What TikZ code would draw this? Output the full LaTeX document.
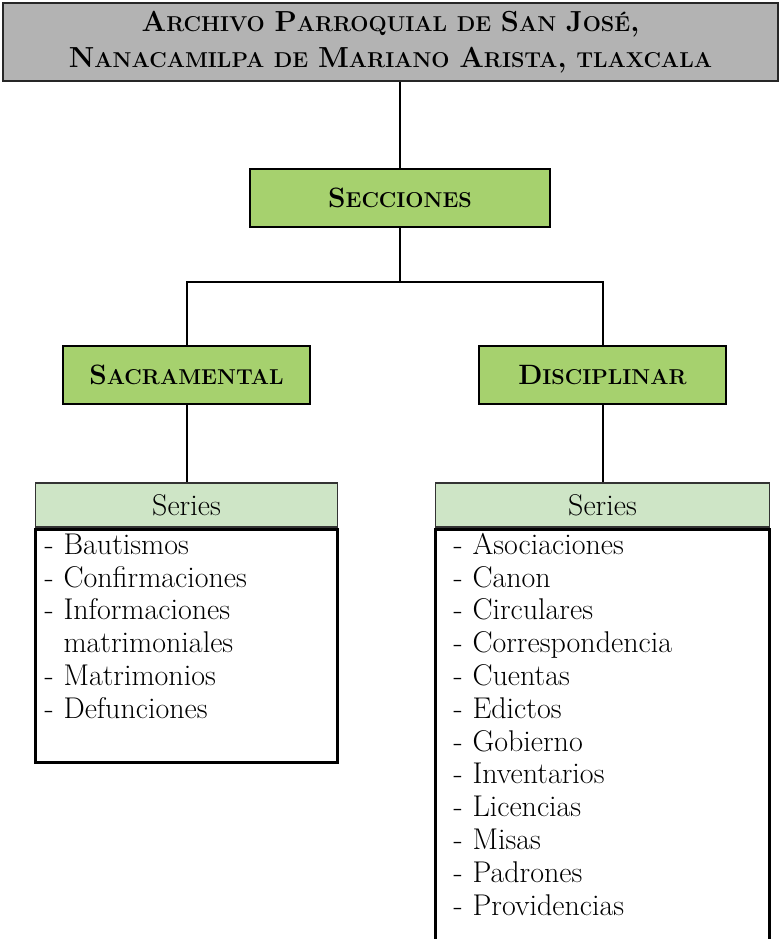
\documentclass[tikz,border=0pt]{standalone}
\usepackage{tikz}
\definecolor{gristitulo}{RGB}{179,179,179}
\definecolor{verde}{RGB}{166,209,110}
\definecolor{verdeclaro}{RGB}{206,229,198}
\def\pc#1{{\fontsize{21.5}{24}\selectfont #1}}
\tikzset{
	titulo/.style={draw=black!85, line width=2pt, fill=gristitulo, minimum width=775pt, minimum height=78pt, text width=740pt, align=center, font=\fontsize{29}{35.5}\selectfont\bfseries},
	seccion/.style={draw=black, line width=2pt, fill=verde, minimum height=58pt, font=\fontsize{28}{32}\selectfont\bfseries},
	cabecera/.style={draw=black!80, line width=1.5pt, fill=verdeclaro, minimum height=44pt, font=\fontsize{30}{32.8}\selectfont},
	lista/.style={draw=black, line width=3pt, anchor=north, align=left, inner ysep=2pt, font=\fontsize{30}{32.8}\selectfont},
	rama/.style={line width=2pt}
}

\begin{document}
\begin{tikzpicture}[x=1pt, y=-1pt]
		%%%%% START %%%%%
		\useasboundingbox (0, 0) rectangle (779, 939);
		
		\node[titulo] (archivo) at (390.5, 42) {A\pc{RCHIVO} P\pc{ARROQUIAL} \pc{DE} S\pc{AN} J\pc{OSÉ},\\ N\pc{ANACAMILPA} \pc{DE} M\pc{ARIANO} A\pc{RISTA}, \pc{TLAXCALA}};
		
		\node[seccion, minimum width=300pt] (secciones) at (400, 197.5) {S\pc{ECCIONES}};
		\node[seccion, minimum width=247pt] (sacramental) at (186.5, 375) {S\pc{ACRAMENTAL}};
		\node[seccion, minimum width=247pt] (disciplinar) at (602.5, 375) {D\pc{ISCIPLINAR}};
		
		\node[cabecera, minimum width=302pt] (seriesS) at (186.5, 505) {Series};
		\node[cabecera, minimum width=334pt] (seriesD) at (602.5, 505) {Series};
		
		\node[lista, text width=284pt, inner xsep=9pt] (listaS) at (seriesS.south) {\strut- Bautismos\\
			- Confirmaciones\\
			- Informaciones\\
			\phantom{- }matrimoniales\\
			- Matrimonios\\
			- Defunciones\\
			\strut};
		\node[lista, text width=298pt, inner xsep=18pt] (listaD) at (seriesD.south) {\strut- Asociaciones\\
			- Canon\\
			- Circulares\\
			- Correspondencia\\
			- Cuentas\\
			- Edictos\\
			- Gobierno\\
			- Inventarios\\
			- Licencias\\
			- Misas\\
			- Padrones\\
			- Providencias\\
			\strut\\
			\strut};
		
		\coordinate (cruce) at (400, 282);
		\draw[rama] (archivo.south -| secciones.north) -- (secciones.north);
		\draw[rama] (secciones.south) -- (cruce);
		\draw[rama] (cruce) -| (sacramental.north);
		\draw[rama] (cruce) -| (disciplinar.north);
		\draw[rama] (sacramental.south) -- (seriesS.north);
		\draw[rama] (disciplinar.south) -- (seriesD.north);
		
		%%%%% END %%%%%
	\end{tikzpicture}
\end{document}
